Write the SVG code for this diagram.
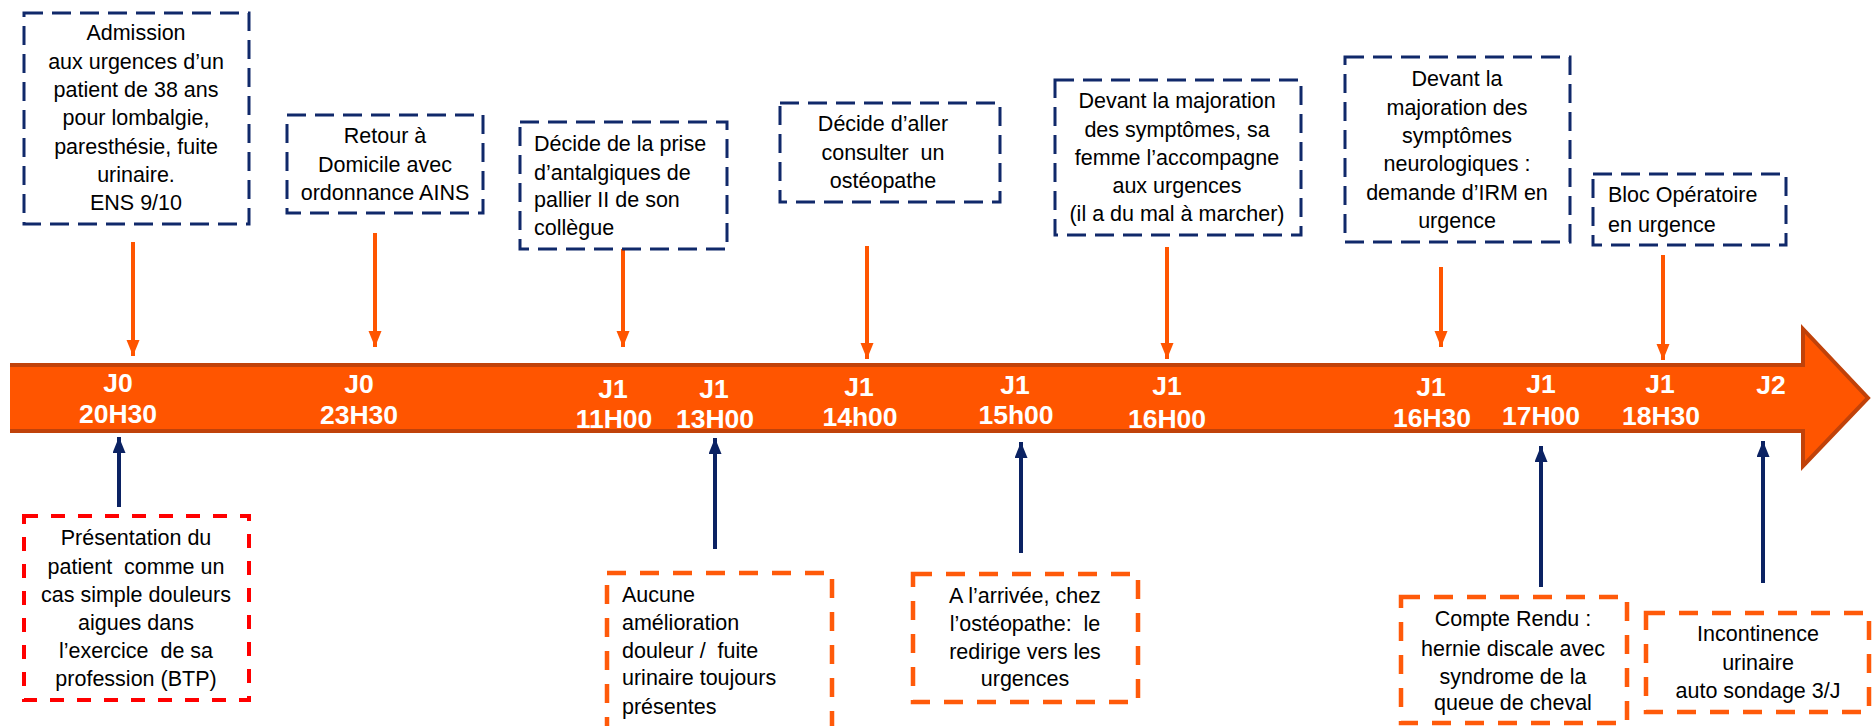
<svg xmlns="http://www.w3.org/2000/svg" width="1872" height="726" viewBox="0 0 1872 726">
<style>
.t{font-family:"Liberation Sans",Arial,sans-serif;font-size:21.5px;fill:#000;white-space:pre}
.c{text-anchor:middle}
.lb{font-family:"Liberation Sans",Arial,sans-serif;font-size:26.5px;font-weight:bold;fill:#fff;text-anchor:middle}
.nb{fill:#fff;stroke:#10296A;stroke-width:3;stroke-dasharray:19 9}
.ob{fill:#fff;stroke:#FF5A0A;stroke-width:4.5;stroke-dasharray:19 14}
.rb{fill:#fff;stroke:#FF0000;stroke-width:4;stroke-dasharray:14 13}
.oa{stroke:#FF5500;stroke-width:4;fill:none;marker-end:url(#ho)}
.na{stroke:#0B2263;stroke-width:4;fill:none;marker-end:url(#hn)}
</style>
<defs>
<marker id="ho" markerUnits="userSpaceOnUse" markerWidth="17" markerHeight="14" refX="16" refY="6.5" orient="auto"><path d="M0,0 L16,6.5 L0,13 z" fill="#FF5500"/></marker>
<marker id="hn" markerUnits="userSpaceOnUse" markerWidth="17" markerHeight="14" refX="16" refY="6.5" orient="auto"><path d="M0,0 L16,6.5 L0,13 z" fill="#0B2263"/></marker>
</defs>
<rect width="1872" height="726" fill="#fff"/>
<g id="timeline">
<polygon points="10,365 1803,365 1803,329 1868,398 1803,466 1803,431 10,431" fill="#FF5500"/>
<polyline points="10,365 1803,365 1803,329 1868,398 1803,466 1803,431 10,431" fill="none" stroke="#C0420A" stroke-width="4"/>
<text class="lb" x="118" y="392">J0</text><text class="lb" x="118" y="423">20H30</text>
<text class="lb" x="359" y="393">J0</text><text class="lb" x="359" y="424">23H30</text>
<text class="lb" x="613" y="398">J1</text><text class="lb" x="614" y="428">11H00</text>
<text class="lb" x="714" y="398">J1</text><text class="lb" x="715" y="428">13H00</text>
<text class="lb" x="859" y="396">J1</text><text class="lb" x="860" y="426">14h00</text>
<text class="lb" x="1015" y="394">J1</text><text class="lb" x="1016" y="424">15h00</text>
<text class="lb" x="1167" y="395">J1</text><text class="lb" x="1167" y="428">16H00</text>
<text class="lb" x="1431" y="396">J1</text><text class="lb" x="1432" y="427">16H30</text>
<text class="lb" x="1541" y="393">J1</text><text class="lb" x="1541" y="425">17H00</text>
<text class="lb" x="1660" y="393">J1</text><text class="lb" x="1661" y="425">18H30</text>
<text class="lb" x="1771" y="394">J2</text>
</g>
<g id="connectors">
<line class="oa" x1="133" y1="242" x2="133" y2="356"/>
<line class="oa" x1="375" y1="233" x2="375" y2="347"/>
<line class="oa" x1="623" y1="233" x2="623" y2="347"/>
<line class="oa" x1="867" y1="246" x2="867" y2="359"/>
<line class="oa" x1="1167" y1="247" x2="1167" y2="359"/>
<line class="oa" x1="1441" y1="267" x2="1441" y2="347"/>
<line class="oa" x1="1663" y1="255" x2="1663" y2="360"/>
<line class="na" x1="119" y1="507" x2="119" y2="437"/>
<line class="na" x1="715" y1="549" x2="715" y2="438"/>
<line class="na" x1="1021" y1="553" x2="1021" y2="442"/>
<line class="na" x1="1541" y1="587" x2="1541" y2="446"/>
<line class="na" x1="1763" y1="583" x2="1763" y2="441"/>
</g>
<g id="n1">
<rect class="nb" x="24" y="13" width="225" height="211"/>
<text class="t c" x="136"><tspan x="136" y="40">Admission</tspan><tspan x="136" y="68.5">aux urgences d’un</tspan><tspan x="136" y="97">patient de 38 ans</tspan><tspan x="136" y="125">pour lombalgie,</tspan><tspan x="136" y="153.5">paresthésie, fuite</tspan><tspan x="136" y="182">urinaire.</tspan><tspan x="136" y="210">ENS 9/10</tspan></text>
</g>
<g id="n2">
<rect class="nb" x="287" y="115" width="196" height="98"/>
<text class="t c"><tspan x="385" y="143">Retour à</tspan><tspan x="385" y="171.5">Domicile avec</tspan><tspan x="385" y="200">ordonnance AINS</tspan></text>
</g>
<g id="n3">
<rect class="nb" x="520" y="122" width="207" height="127"/>
<text class="t"><tspan x="534" y="151">Décide de la prise</tspan><tspan x="534" y="179.5">d’antalgiques de</tspan><tspan x="534" y="207">pallier II de son</tspan><tspan x="534" y="235">collègue</tspan></text>
</g>
<g id="n4">
<rect class="nb" x="780" y="103" width="220" height="99"/>
<text class="t c"><tspan x="883" y="131">Décide d’aller</tspan><tspan x="883" y="159.5">consulter  un</tspan><tspan x="883" y="188">ostéopathe</tspan></text>
</g>
<g id="n5">
<rect class="nb" x="1055" y="80" width="246" height="155"/>
<text class="t c"><tspan x="1177" y="108">Devant la majoration</tspan><tspan x="1177" y="136.5">des symptômes, sa</tspan><tspan x="1177" y="164.5">femme l’accompagne</tspan><tspan x="1177" y="192.5">aux urgences</tspan><tspan x="1177" y="220.5">(il a du mal à marcher)</tspan></text>
</g>
<g id="n6">
<rect class="nb" x="1345" y="57" width="225" height="185"/>
<text class="t c"><tspan x="1457" y="86">Devant la</tspan><tspan x="1457" y="114.5">majoration des</tspan><tspan x="1457" y="143">symptômes</tspan><tspan x="1457" y="171">neurologiques :</tspan><tspan x="1457" y="199.5">demande d’IRM en</tspan><tspan x="1457" y="228">urgence</tspan></text>
</g>
<g id="n7">
<rect class="nb" x="1593" y="174" width="193" height="71"/>
<text class="t"><tspan x="1608" y="202">Bloc Opératoire</tspan><tspan x="1608" y="232">en urgence</tspan></text>
</g>
<g id="n8">
<rect class="rb" x="24" y="516" width="225" height="184"/>
<text class="t c"><tspan x="136" y="545">Présentation du</tspan><tspan x="136" y="573.5">patient  comme un</tspan><tspan x="136" y="601.5">cas simple douleurs</tspan><tspan x="136" y="629.5">aigues dans</tspan><tspan x="136" y="657.5">l’exercice  de sa</tspan><tspan x="136" y="685.5">profession (BTP)</tspan></text>
</g>
<g id="n9">
<rect class="ob" x="607" y="573" width="225" height="170"/>
<text class="t"><tspan x="622" y="602">Aucune</tspan><tspan x="622" y="630">amélioration</tspan><tspan x="622" y="658">douleur /  fuite</tspan><tspan x="622" y="685">urinaire toujours</tspan><tspan x="622" y="714">présentes</tspan></text>
</g>
<g id="n10">
<rect class="ob" x="913" y="574" width="225" height="128"/>
<text class="t c"><tspan x="1025" y="603">A l’arrivée, chez</tspan><tspan x="1025" y="631">l’ostéopathe:  le</tspan><tspan x="1025" y="659">redirige vers les</tspan><tspan x="1025" y="686">urgences</tspan></text>
</g>
<g id="n11">
<rect class="ob" x="1401" y="597" width="226" height="126"/>
<text class="t c"><tspan x="1513" y="626">Compte Rendu :</tspan><tspan x="1513" y="656">hernie discale avec</tspan><tspan x="1513" y="684">syndrome de la</tspan><tspan x="1513" y="710">queue de cheval</tspan></text>
</g>
<g id="n12">
<rect class="ob" x="1646" y="613" width="223" height="99"/>
<text class="t c"><tspan x="1758" y="641">Incontinence</tspan><tspan x="1758" y="670">urinaire</tspan><tspan x="1758" y="698">auto sondage 3/J</tspan></text>
</g>
</svg>
